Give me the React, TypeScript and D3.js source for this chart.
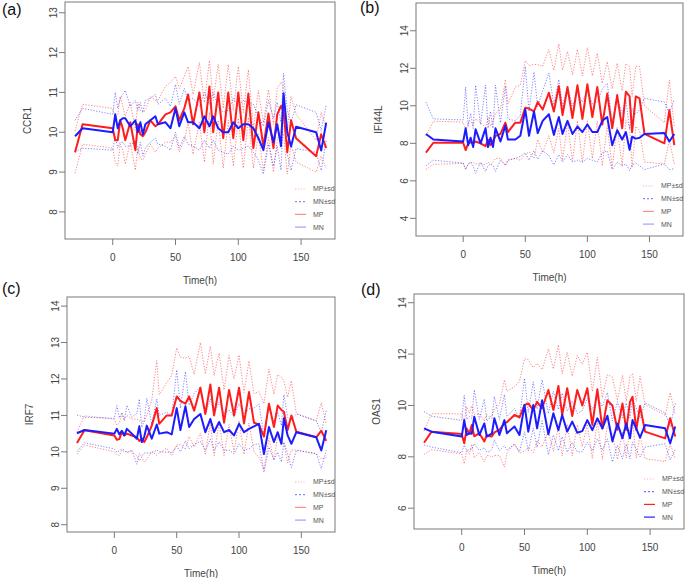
import React from 'react'
import * as d3 from 'd3'

// sampling times (h), shared by all four genes
const times = [-30, -24, 0, 2, 4, 6, 8, 10, 14, 18, 20, 22, 24, 26, 30, 34, 36, 42, 46, 50, 53, 57, 60, 64, 69, 73, 77, 80, 84, 88, 92, 96, 100, 104, 108, 112, 116, 120, 124, 128, 131, 134, 136, 139, 142, 146, 162, 166, 170]

// CCR1
const ccr1MP = [9.5, 10.2, 10.1, 9.8, 9.8, 10.3, 10.1, 9.8, 10.25, 9.55,
  10.2, 9.95, 9.9, 10.0, 10.3, 10.15, 10.2, 10.45, 10.5, 10.65,
  10.3, 10.6, 10.95, 10.2, 11.0, 10.0, 11.15, 10.0, 11.0, 9.85,
  11.0, 9.85, 11.0, 9.8, 10.97, 9.6, 10.5, 9.64, 10.47, 9.6,
  10.45, 10.66, 10.55, 9.5, 10.3, 9.85, 9.4, 9.95, 9.6]
const ccr1MPsd = [0.53, 0.5, 0.5, 0.55, 0.65, 0.6, 0.55, 0.6, 0.5, 0.5,
  0.55, 0.6, 0.6, 0.55, 0.6, 0.65, 0.6, 0.7, 0.75, 0.75,
  0.8, 0.8, 0.7, 0.75, 0.75, 0.75, 0.65, 0.8, 0.7, 0.75,
  0.7, 0.7, 0.65, 0.7, 0.6, 0.5, 0.55, 0.6, 0.6, 0.6,
  0.65, 0.6, 0.6, 0.55, 0.6, 0.6, 0.4, 0.55, 0.5]
const ccr1MN = [9.9, 10.1, 10.0, 10.45, 10.1, 10.3, 10.35, 10.35, 10.15, 10.3,
  10.0, 10.25, 9.95, 10.2, 10.3, 10.4, 10.2, 10.25, 10.1, 10.6,
  10.15, 10.5, 10.25, 10.25, 10.1, 10.4, 10.15, 10.4, 10.1, 10.0,
  10.0, 10.25, 10.1, 10.2, 10.2, 10.1, 9.85, 9.55, 10.25, 9.75,
  10.2, 9.65, 10.98, 10.0, 9.64, 10.14, 10.0, 9.54, 10.24]
const ccr1MNsd = [0.4, 0.5, 0.45, 0.55, 0.5, 0.55, 0.6, 0.7, 0.5, 0.5,
  0.55, 0.5, 0.55, 0.6, 0.55, 0.55, 0.5, 0.6, 0.55, 0.6,
  0.55, 0.6, 0.55, 0.6, 0.55, 0.6, 0.55, 0.6, 0.55, 0.5,
  0.55, 0.6, 0.55, 0.6, 0.55, 0.6, 0.55, 0.6, 0.55, 0.6,
  0.55, 0.6, 0.5, 0.55, 0.6, 0.55, 0.5, 0.5, 0.45]

// IFI44L
const ifi44lMP = [7.5, 8.03, 8.03, 7.64, 8.0, 8.05, 8.0, 8.1, 8.0, 7.85,
  8.2, 7.9, 8.1, 8.4, 8.5, 9.1, 8.6, 9.1, 9.1, 9.9,
  9.85, 9.7, 10.2, 9.8, 10.7, 9.7, 11.05, 9.5, 11.0, 9.35,
  11.1, 9.3, 11.15, 9.4, 11.0, 9.0, 10.65, 8.8, 10.57, 8.8,
  10.75, 10.5, 8.6, 10.5, 10.4, 8.5, 8.0, 9.77, 7.9]
const ifi44lMPsd = [0.9, 1.15, 1.1, 1.0, 1.1, 1.1, 1.0, 1.2, 1.1, 1.0,
  1.2, 1.0, 1.1, 1.2, 1.3, 2.3, 1.5, 1.9, 2.0, 2.5,
  2.3, 2.5, 2.0, 2.3, 2.3, 2.2, 2.25, 2.4, 1.9, 2.3,
  1.9, 2.3, 1.95, 2.2, 1.8, 2.2, 1.7, 2.1, 1.7, 2.0,
  1.5, 1.6, 1.9, 1.6, 1.7, 1.5, 1.1, 1.6, 1.0]
const ifi44lMN = [8.5, 8.2, 8.1, 8.8, 7.9, 8.3, 7.8, 8.75, 8.0, 8.8,
  7.8, 8.3, 7.8, 8.8, 8.1, 8.95, 8.2, 8.2, 8.4, 9.8,
  8.4, 9.7, 8.55, 9.2, 9.55, 8.45, 9.4, 8.5, 9.2, 8.5,
  8.9, 8.6, 9.0, 8.6, 8.6, 9.2, 9.4, 7.9, 8.7, 8.2,
  8.6, 7.65, 8.35, 8.25, 8.3, 8.5, 8.55, 8.1, 8.5]
const ifi44lMNsd = [1.7, 1.1, 1.15, 2.2, 1.0, 1.3, 1.0, 2.35, 1.0, 2.3,
  1.0, 1.4, 1.0, 2.3, 1.0, 2.1, 1.1, 1.0, 1.1, 2.3,
  1.3, 2.1, 1.4, 1.6, 2.2, 1.6, 2.0, 1.5, 1.8, 1.5,
  1.8, 1.6, 1.8, 1.5, 1.6, 1.7, 1.8, 1.3, 1.7, 1.4,
  1.7, 1.1, 1.5, 1.3, 1.5, 1.9, 1.65, 1.5, 1.85]

// IRF7
const irf7MP = [10.24, 10.59, 10.45, 10.33, 10.35, 10.55, 10.45, 10.5, 10.45, 10.4,
  10.3, 10.35, 10.27, 10.4, 10.72, 11.2, 10.77, 11.0, 11.0, 11.52,
  11.4, 11.32, 11.52, 11.13, 11.76, 11.04, 11.85, 11.0, 11.76, 10.8,
  11.7, 11.0, 11.76, 10.78, 11.64, 10.8, 10.75, 10.42, 11.32, 10.68,
  11.27, 11.15, 11.1, 10.6, 11.0, 10.55, 10.4, 10.58, 10.3]
const irf7MPsd = [0.3, 0.4, 0.45, 0.4, 0.45, 0.5, 0.45, 0.5, 0.45, 0.5,
  0.55, 0.5, 0.55, 0.6, 0.7, 1.3, 0.8, 0.9, 1.1, 1.33,
  1.2, 1.25, 1.1, 1.0, 1.24, 1.1, 1.05, 1.1, 0.95, 0.9,
  0.95, 1.0, 0.9, 0.85, 0.85, 0.8, 0.9, 0.9, 0.95, 0.9,
  0.85, 0.9, 0.85, 0.9, 0.95, 0.5, 0.45, 0.77, 0.45]
const irf7MN = [10.51, 10.6, 10.5, 10.63, 10.48, 10.58, 10.45, 10.63, 10.5, 10.36,
  10.7, 10.27, 10.42, 10.72, 10.36, 10.75, 10.5, 10.54, 10.48, 11.2,
  10.6, 11.25, 10.68, 10.9, 11.04, 10.54, 10.9, 10.54, 10.82, 10.54,
  10.6, 10.45, 10.77, 10.54, 10.63, 10.7, 10.77, 9.94, 10.68, 10.27,
  10.54, 10.22, 10.92, 10.45, 10.22, 10.54, 10.4, 10.04, 10.59]
const irf7MNsd = [0.5, 0.35, 0.42, 0.64, 0.45, 0.5, 0.4, 0.65, 0.45, 0.7,
  0.75, 0.4, 0.45, 0.75, 0.4, 0.7, 0.5, 0.55, 0.5, 1.05,
  0.6, 0.95, 0.6, 0.7, 0.75, 0.5, 0.55, 0.5, 0.55, 0.5,
  0.55, 0.5, 0.55, 0.5, 0.55, 0.5, 0.55, 0.5, 0.55, 0.5,
  0.55, 0.5, 0.65, 0.5, 0.65, 0.5, 0.45, 0.5, 0.55]

// OAS1
const oas1MP = [8.55, 8.98, 8.89, 8.53, 9.1, 8.9, 9.24, 8.8, 8.92, 8.6,
  8.85, 8.8, 8.79, 8.95, 9.05, 9.3, 9.35, 9.63, 9.54, 10.02,
  10.08, 9.82, 10.14, 9.89, 10.6, 9.82, 10.76, 9.63, 10.67, 9.59,
  10.6, 10.0, 10.67, 9.24, 10.63, 9.1, 10.2, 10.0, 9.05, 10.08,
  9.05, 10.14, 10.34, 9.05, 9.98, 8.98, 8.72, 9.5, 8.79]
const oas1MPsd = [0.45, 0.7, 0.78, 0.8, 0.85, 0.8, 0.75, 0.85, 0.75, 0.8,
  0.8, 0.75, 0.8, 0.9, 1.0, 1.7, 1.2, 1.1, 1.4, 1.8,
  1.7, 1.65, 1.5, 1.5, 1.6, 1.6, 1.6, 1.6, 1.4, 1.55,
  1.35, 1.6, 1.4, 1.3, 1.25, 1.2, 1.0, 1.1, 1.15, 1.1,
  1.1, 1.0, 0.9, 1.1, 1.15, 1.05, 0.9, 1.0, 0.85]
const oas1MN = [9.11, 8.98, 8.79, 9.43, 8.85, 8.92, 8.9, 9.56, 8.85, 9.3,
  8.79, 8.85, 8.9, 9.5, 8.85, 9.43, 8.92, 9.18, 8.85, 10.02,
  8.98, 10.02, 9.11, 10.2, 8.88, 9.7, 9.04, 9.63, 8.98, 9.37,
  8.94, 9.0, 9.43, 9.04, 9.5, 9.11, 9.6, 8.6, 9.3, 8.72,
  9.3, 8.72, 9.43, 9.1, 8.75, 9.24, 9.11, 8.53, 9.18]
const oas1MNsd = [0.65, 0.6, 0.63, 0.97, 0.6, 0.65, 0.6, 1.05, 0.6, 0.95,
  0.6, 0.65, 0.6, 0.85, 0.6, 1.0, 0.65, 0.7, 0.65, 1.04,
  0.75, 0.9, 0.75, 0.8, 0.8, 0.85, 0.8, 0.85, 0.8, 0.8,
  0.75, 0.8, 0.85, 0.8, 0.8, 0.85, 0.9, 0.8, 0.85, 0.8,
  0.8, 0.8, 0.85, 0.8, 0.75, 0.86, 0.6, 0.65, 0.9]

const xTicks = [0, 50, 100, 150]
const legendLabels = ['MP±sd', 'MN±sd', 'MP', 'MN']

type Box = { l: number; r: number; t: number; b: number }
type PanelSpec = {
  tag: string
  tagPos: [number, number]
  gene: string
  mp: number[]
  mpSd: number[]
  mn: number[]
  mnSd: number[]
  yDomain: [number, number]
  yTicks: number[]
  box: Box
  strongLegend: boolean
}

const panels: PanelSpec[] = [
  { tag: '(a)', tagPos: [2, 15], gene: 'CCR1', mp: ccr1MP, mpSd: ccr1MPsd, mn: ccr1MN, mnSd: ccr1MNsd,
    yDomain: [7.32, 13.27], yTicks: [8, 9, 10, 11, 12, 13], box: { l: 65, r: 335, t: 2, b: 239 }, strongLegend: false },
  { tag: '(b)', tagPos: [360, 13], gene: 'IFI44L', mp: ifi44lMP, mpSd: ifi44lMPsd, mn: ifi44lMN, mnSd: ifi44lMNsd,
    yDomain: [3.06, 15.48], yTicks: [4, 6, 8, 10, 12, 14], box: { l: 416, r: 683, t: 3, b: 236 }, strongLegend: false },
  { tag: '(c)', tagPos: [2, 294], gene: 'IRF7', mp: irf7MP, mpSd: irf7MPsd, mn: irf7MN, mnSd: irf7MNsd,
    yDomain: [7.8, 14.25], yTicks: [8, 9, 10, 11, 12, 13, 14], box: { l: 67, r: 335, t: 297, b: 532 }, strongLegend: false },
  { tag: '(d)', tagPos: [361, 295], gene: 'OAS1', mp: oas1MP, mpSd: oas1MPsd, mn: oas1MN, mnSd: oas1MNsd,
    yDomain: [5.19, 14.34], yTicks: [6, 8, 10, 12, 14], box: { l: 414, r: 684, t: 294, b: 529 }, strongLegend: true },
]

const FONT = '"Liberation Sans", Arial, Helvetica, sans-serif'
const sdRed = 'rgba(255,30,30,0.55)'
const sdBlue = 'rgba(30,30,255,0.55)'
const mainRed = '#ff1c1c'
const mainBlue = '#1c1cff'
const axisGrey = '#7a7a7a'
const textGrey = '#444'

function Panel({ p }: { p: PanelSpec }) {
  const { box } = p
  const x = d3.scaleLinear().domain([-38, 177]).range([box.l, box.r])
  const y = d3.scaleLinear().domain(p.yDomain).range([box.b, box.t])
  const line = d3.line<number>().x((_, i) => x(times[i])).y(d => y(d))
  const plus = (m: number[], s: number[]) => m.map((v, i) => v + s[i])
  const minus = (m: number[], s: number[]) => m.map((v, i) => v - s[i])

  // legend keys are faded in the first three panels
  const legendStyles = p.strongLegend
    ? [
        { stroke: '#ffb3b3', dash: '1.2 1.6', w: 1 },
        { stroke: '#5050ff', dash: '2 2', w: 1 },
        { stroke: '#ff2020', dash: undefined, w: 1.2 },
        { stroke: '#2020ff', dash: undefined, w: 1.2 },
      ]
    : [
        { stroke: '#ffb3b3', dash: '1.2 1.6', w: 1 },
        { stroke: '#6a6aff', dash: '2 2', w: 1 },
        { stroke: '#ff8c8c', dash: undefined, w: 1.2 },
        { stroke: '#a0a0ff', dash: undefined, w: 1.2 },
      ]

  const midX = (box.l + box.r) / 2
  const midY = (box.t + box.b) / 2

  return (
    <g fontFamily={FONT}>
      <text x={p.tagPos[0]} y={p.tagPos[1]} fontSize={16} fill="#111">{p.tag}</text>

      {/* mean ± sd as dotted lines */}
      <g fill="none" strokeWidth={1}>
        <path d={line(plus(p.mp, p.mpSd)) || ''} stroke={sdRed} strokeDasharray="1.2 1.6" />
        <path d={line(minus(p.mp, p.mpSd)) || ''} stroke={sdRed} strokeDasharray="1.2 1.6" />
        <path d={line(plus(p.mn, p.mnSd)) || ''} stroke={sdBlue} strokeDasharray="1.2 1.6" />
        <path d={line(minus(p.mn, p.mnSd)) || ''} stroke={sdBlue} strokeDasharray="1.2 1.6" />
      </g>
      <path d={line(p.mp) || ''} fill="none" stroke={mainRed} strokeWidth={2} strokeLinejoin="round" />
      <path d={line(p.mn) || ''} fill="none" stroke={mainBlue} strokeWidth={2} strokeLinejoin="round" />

      <rect x={box.l} y={box.t} width={box.r - box.l} height={box.b - box.t} fill="none" stroke={axisGrey} strokeWidth={1} />

      {/* x axis */}
      {xTicks.map(t => (
        <g key={t}>
          <line x1={x(t)} x2={x(t)} y1={box.b} y2={box.b + 6} stroke={axisGrey} />
          <text x={x(t)} y={box.b + 18} dy="0.35em" textAnchor="middle" fontSize={10} fill={textGrey}>{t}</text>
        </g>
      ))}
      <text x={midX} y={box.b + 41} dy="0.35em" textAnchor="middle" fontSize={10} fill={textGrey}>Time(h)</text>

      {/* y axis */}
      {p.yTicks.map(v => (
        <g key={v}>
          <line x1={box.l - 6} x2={box.l} y1={y(v)} y2={y(v)} stroke={axisGrey} />
          <text transform={`translate(${box.l - 12},${y(v)}) rotate(-90)`} dy="0.35em" textAnchor="middle" fontSize={10} fill={textGrey}>{v}</text>
        </g>
      ))}
      <text transform={`translate(${box.l - 38},${midY}) rotate(-90)`} dy="0.35em" textAnchor="middle" fontSize={10} fill={textGrey}>{p.gene}</text>

      {/* legend */}
      {legendLabels.map((lab, i) => {
        const ly = box.b - 50 + i * 12.7
        const st = legendStyles[i]
        return (
          <g key={lab}>
            <line x1={box.r - 40} x2={box.r - 29} y1={ly} y2={ly} stroke={st.stroke} strokeWidth={st.w} strokeDasharray={st.dash} />
            <text x={box.r - 22} y={ly} dy="0.35em" fontSize={7} fill="#555">{lab}</text>
          </g>
        )
      })}
    </g>
  )
}

export default function App() {
  return (
    <svg width={685} height={578} style={{ position: 'absolute', left: 0, top: 0, background: '#fff' }}>
      <rect width={685} height={578} fill="#fff" />
      {panels.map(p => <Panel key={p.tag} p={p} />)}
    </svg>
  )
}
